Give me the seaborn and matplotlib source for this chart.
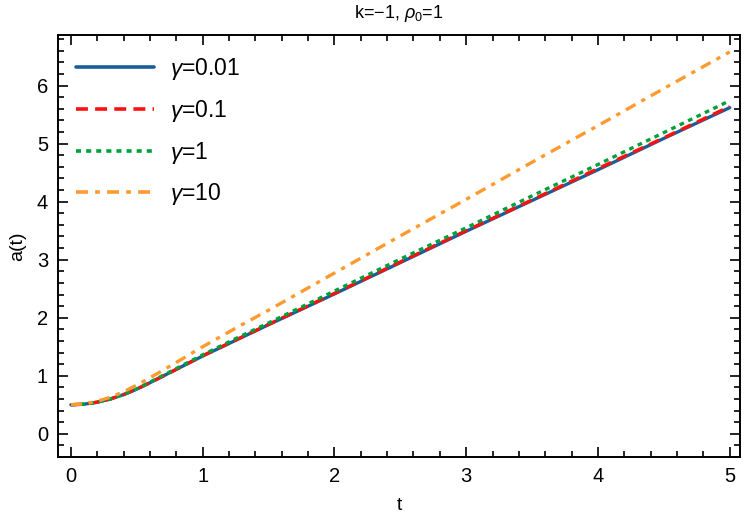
import matplotlib
matplotlib.use("Agg")
import matplotlib.pyplot as plt
from matplotlib.ticker import MultipleLocator
import pandas as pd
import seaborn as sns

# values
t = [0, 0.1, 0.2, 0.3, 0.4, 0.5, 0.6, 0.8, 1.0, 1.25, 1.5, 2, 2.5, 3, 3.5, 4, 4.5, 5]
a_001 = [0.50, 0.51, 0.545, 0.60, 0.675, 0.77, 0.88, 1.11, 1.34, 1.61, 1.88, 2.41, 2.95, 3.49, 4.02, 4.55, 5.09, 5.62]
a_01 = [0.50, 0.51, 0.545, 0.60, 0.675, 0.77, 0.88, 1.11, 1.345, 1.615, 1.885, 2.42, 2.96, 3.50, 4.03, 4.57, 5.10, 5.64]
a_1 = [0.50, 0.51, 0.545, 0.60, 0.68, 0.775, 0.89, 1.125, 1.36, 1.64, 1.91, 2.46, 3.01, 3.55, 4.10, 4.64, 5.19, 5.74]
a_10 = [0.50, 0.515, 0.56, 0.63, 0.725, 0.84, 0.965, 1.23, 1.50, 1.82, 2.13, 2.77, 3.41, 4.04, 4.68, 5.31, 5.95, 6.58]
labels = ["$\\gamma$=0.01", "$\\gamma$=0.1", "$\\gamma$=1", "$\\gamma$=10"]

colors = ["#1a5e98", "#ff1010", "#00a03a", "#ff9a2e"]
dashes = ["", (3.3, 2.0), (1.4, 1.4), (3.3, 2.0, 1.3, 2.0)]

sns.set_theme(style="ticks")
plt.rcParams["font.family"] = ["Liberation Sans", "DejaVu Sans"]
plt.rcParams["mathtext.fontset"] = "custom"
plt.rcParams["mathtext.rm"] = "Liberation Sans"
plt.rcParams["mathtext.it"] = "Liberation Sans:italic"
plt.rcParams["text.color"] = "black"
plt.rcParams["axes.labelcolor"] = "black"
plt.rcParams["xtick.color"] = "black"
plt.rcParams["ytick.color"] = "black"

df = pd.concat(
    [pd.DataFrame({"t": t, "a": y, "g": lab}) for y, lab in zip([a_001, a_01, a_1, a_10], labels)],
    ignore_index=True,
)

fig = plt.figure(figsize=(7.5, 5.32), dpi=100)
ax = fig.add_axes([0.077, 0.141, 0.91, 0.793])

sns.lineplot(
    data=df, x="t", y="a", hue="g", style="g",
    palette=dict(zip(labels, colors)), dashes=dict(zip(labels, dashes)),
    linewidth=2.4, ax=ax, sort=False,
)

ax.set_xlim(-0.1, 5.08)
ax.set_ylim(-0.4, 6.87)
ax.xaxis.set_major_locator(MultipleLocator(1))
ax.xaxis.set_minor_locator(MultipleLocator(0.2))
ax.yaxis.set_major_locator(MultipleLocator(1))
ax.yaxis.set_minor_locator(MultipleLocator(0.2))
ax.tick_params(which="both", direction="in", top=True, right=True, color="black", width=1.2)
ax.tick_params(which="major", length=7, labelsize=14.5, pad=7)
ax.tick_params(which="minor", length=4)
for s in ax.spines.values():
    s.set_linewidth(1.4)
    s.set_color("black")

ax.set_xlabel("t", fontsize=14, labelpad=8)
ax.set_ylabel("a(t)", fontsize=14, labelpad=8)
ax.set_title("k=\u22121, $\\rho_0$=1", fontsize=13, pad=12)

leg = ax.legend(
    loc="upper left", frameon=False, fontsize=16.5, handlelength=3.4,
    handletextpad=0.72, labelspacing=0.68, borderaxespad=0.4,
    bbox_to_anchor=(0.0, 0.993),
)
for line in leg.get_lines():
    line.set_linewidth(2.6)

fig.savefig("out.png", dpi=100)
